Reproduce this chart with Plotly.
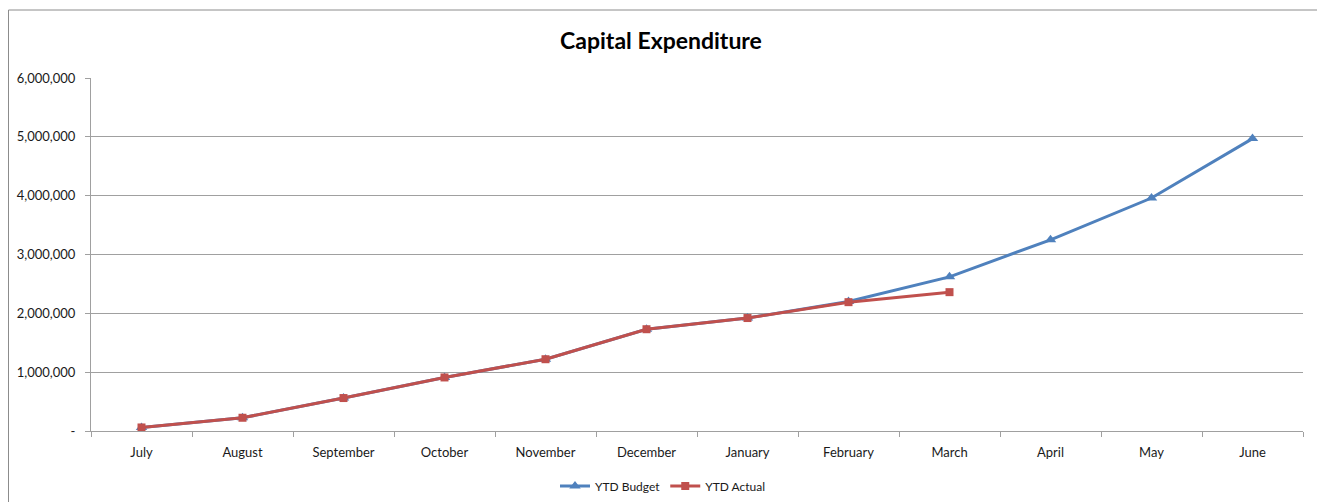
import plotly.graph_objects as go

months = ["July", "August", "September", "October", "November", "December",
          "January", "February", "March", "April", "May", "June"]
ytd_budget = [60000, 225000, 560000, 910000, 1220000, 1730000,
              1920000, 2200000, 2620000, 3250000, 3960000, 4970000]
ytd_actual = [60000, 225000, 560000, 910000, 1220000, 1730000,
              1920000, 2190000, 2360000]
y_ticks = [0, 1000000, 2000000, 3000000, 4000000, 5000000, 6000000]
y_tick_text = ["-", "1,000,000", "2,000,000", "3,000,000", "4,000,000", "5,000,000", "6,000,000"]

FONT = "Lato, Open Sans, sans-serif"

fig = go.Figure()
fig.add_trace(go.Scatter(
    x=months, y=ytd_budget, name="YTD Budget", mode="lines+markers",
    line=dict(color="#4F81BD", width=3),
    marker=dict(symbol="triangle-up", size=10, color="#4F81BD"),
))
fig.add_trace(go.Scatter(
    x=months[:len(ytd_actual)], y=ytd_actual, name="YTD Actual", mode="lines+markers",
    line=dict(color="#C0504D", width=3),
    marker=dict(symbol="square", size=8, color="#C0504D"),
))

# page body has an 8px margin; figure coords = reference coords - 8
OFF = 8
W, H = 1325 - OFF, 502 - OFF
L, R, T, B = 91 - OFF, W - (1303 - OFF), 78 - OFF, H - (431 - OFF)
pw, ph = W - L - R, H - T - B

fig.update_layout(
    width=W, height=H,
    margin=dict(l=L, r=R, t=T, b=B, autoexpand=False),
    paper_bgcolor="white", plot_bgcolor="white",
    font=dict(family=FONT, size=12, color="#1a1a1a"),
    title=dict(text="<b>Capital Expenditure</b>", x=(661 - OFF) / W, xref="container",
               xanchor="center", y=1 - (41 - OFF) / H, yanchor="middle",
               font=dict(family=FONT, size=23, color="#000000")),
    showlegend=True,
    legend=dict(orientation="h", x=(663 - 91) / pw, xanchor="center",
                y=-(486 - 431) / ph, yanchor="middle",
                font=dict(size=12, color="#1a1a1a"),
                bgcolor="rgba(0,0,0,0)"),
    xaxis=dict(type="category", categoryorder="array", categoryarray=months,
               range=[-0.5, 11.5], tickson="boundaries", ticks="outside",
               ticklen=5, tickcolor="#A0A0A0", showline=True, linecolor="#A0A0A0",
               linewidth=1, showgrid=False, tickfont=dict(size=13, color="#1a1a1a"),
               ticklabelstandoff=9, automargin=False, fixedrange=True),
    yaxis=dict(range=[0, 6000000], tickvals=y_ticks, ticktext=y_tick_text,
               ticks="outside", ticklen=5, tickcolor="#A0A0A0", showline=True,
               linecolor="#A0A0A0", linewidth=1, showgrid=True,
               gridcolor="#A0A0A0", gridwidth=1, zeroline=False,
               tickfont=dict(size=13, color="#1a1a1a"), ticklabelstandoff=7,
               automargin=False, fixedrange=True),
    shapes=[dict(type="rect", xref="paper", yref="paper",
                 x0=(0.5 - L) / pw, x1=(1318 - OFF - L) / pw,
                 y0=-(B + 20) / ph, y1=(T - (10 - OFF)) / ph + 1,
                 line=dict(color="#8C8C8C", width=1), fillcolor="rgba(0,0,0,0)",
                 layer="below")],
)

fig.write_html("out.html")
